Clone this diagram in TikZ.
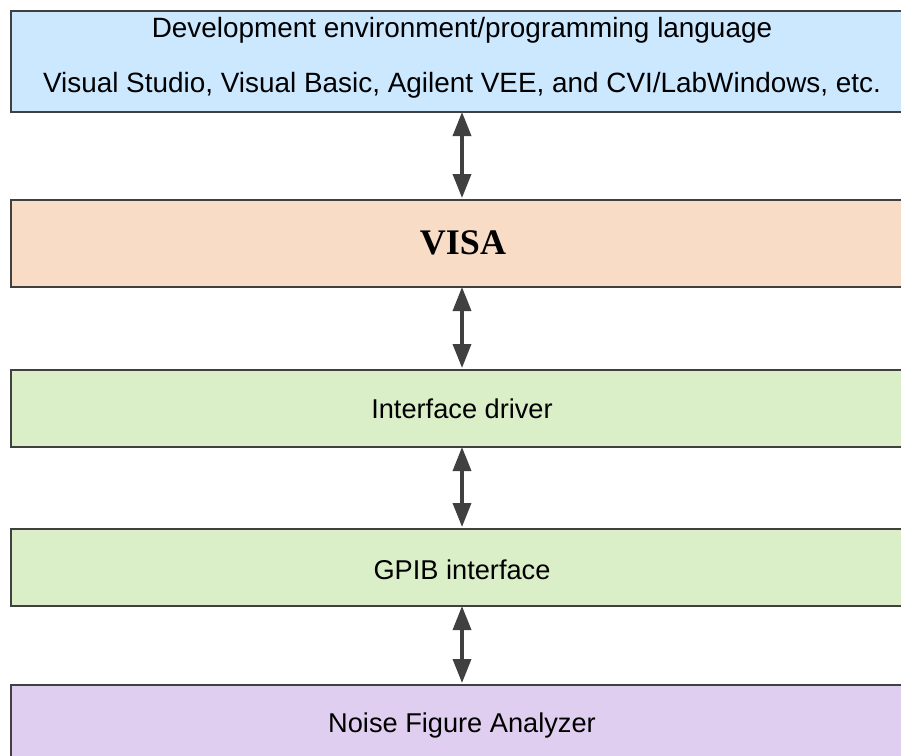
\documentclass[tikz,border=0pt]{standalone}
\usepackage{fontspec}
\setmainfont{Liberation Sans}
\newfontfamily\serifbold{Liberation Serif}
\usetikzlibrary{arrows.meta}
\definecolor{cblue}{HTML}{CCE8FF}
\definecolor{cpeach}{HTML}{F8DCC6}
\definecolor{cgreen}{HTML}{DAEFC8}
\definecolor{cpurple}{HTML}{E0CEF0}
\definecolor{cline}{HTML}{404040}
\tikzset{
  layerbox/.style={draw=cline, line width=2pt, anchor=north west, minimum width=920pt,
    inner sep=0pt},
  layertext/.style={font=\fontsize{27.2}{33}\selectfont},
  toptext/.style={font=\fontsize{27.9}{33}\selectfont},
  biarrow/.style={draw=cline, line width=3.5pt, {Triangle[length=24pt,width=18pt]}-{Triangle[length=24pt,width=18pt]}, shorten <=1pt, shorten >=1pt}
}
\begin{document}
\begin{tikzpicture}[x=1pt,y=-1pt]
\useasboundingbox (0,0) rectangle (901,755);
\clip (0,0) rectangle (901,755);
\node[layerbox, fill=cblue, minimum height=101pt] (dev) at (10,10) {};
\node[toptext] (devA) at (462,30) {Development environment/programming language};
\node[toptext] (devB) at (462,85) {Visual Studio, Visual Basic, Agilent VEE, and CVI/LabWindows, etc.};
\node[layerbox, fill=cpeach, minimum height=87pt] (visa) at (10,199) {};
\node[font=\serifbold\bfseries\fontsize{36}{40}\selectfont] (visaT) at (463,243) {VISA};
\node[layerbox, fill=cgreen, minimum height=77pt] (drv) at (10,369) {};
\node[layertext] (drvT) at (462,409) {Interface driver};
\node[layerbox, fill=cgreen, minimum height=77pt] (gpib) at (10,528) {};
\node[layertext] (gpibT) at (462,570) {GPIB interface};
\node[layerbox, fill=cpurple, minimum height=90pt] (nfa) at (10,684) {};
\node[layertext] (nfaT) at (462,725) {Noise Figure Analyzer};
\coordinate (a1) at (462,111); \coordinate (b1) at (462,199);
\coordinate (a2) at (462,286); \coordinate (b2) at (462,369);
\coordinate (a3) at (462,446); \coordinate (b3) at (462,528);
\coordinate (a4) at (462,605); \coordinate (b4) at (462,684);
\draw[biarrow] (a1) -- (b1);
\draw[biarrow] (a2) -- (b2);
\draw[biarrow] (a3) -- (b3);
\draw[biarrow] (a4) -- (b4);
\end{tikzpicture}
\end{document}
